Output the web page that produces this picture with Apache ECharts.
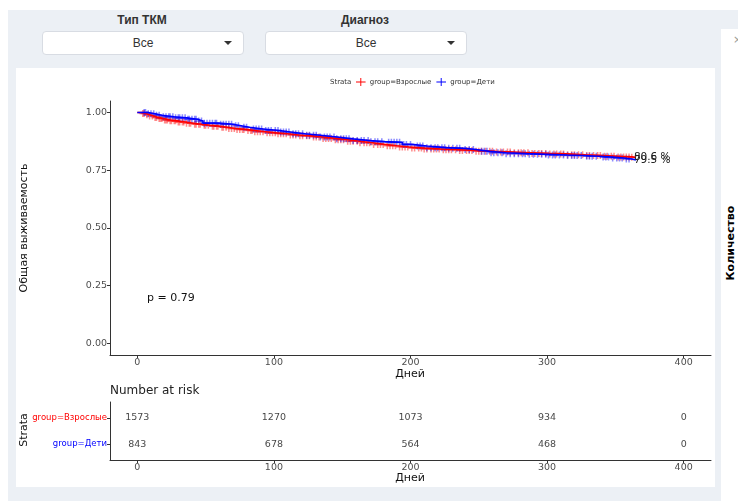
<!DOCTYPE html>
<html>
<head>
<meta charset="utf-8">
<script src="https://cdn.jsdelivr.net/npm/echarts@6/dist/echarts.min.js"></script>
<style>
  html, body { margin: 0; padding: 0; background: #fff; width: 738px; height: 501px; overflow: hidden; }
  #bg { position: absolute; left: 8px; top: 10px; width: 730px; height: 491px; background: #ecf0f5; }
  .sel-label { position: absolute; top: 13px; transform: translateX(-50%); white-space: nowrap;
    font: bold 12px "Liberation Sans Narrow", "Liberation Sans", Arial, sans-serif; color: #333; }
  .sel { position: absolute; top: 31px; width: 202px; height: 24px; background: #fff;
    border: 1px solid #d8dce3; border-radius: 4px; box-sizing: border-box; }
  .sel span { position: absolute; left: 0; right: 0; top: 4px; text-align: center;
    font: 12px "Liberation Sans Narrow", "Liberation Sans", Arial, sans-serif; color: #333; }
  .caret { position: absolute; right: 11px; top: 9px; width: 0; height: 0;
    border-left: 4px solid transparent; border-right: 4px solid transparent; border-top: 4px solid #333; }
  #chart { position: absolute; left: 16px; top: 68px; width: 699px; height: 419px; background: #fff; }
  #side { position: absolute; left: 721px; top: 29px; width: 17px; height: 472px; background: #fff; overflow: hidden; }
  #side .ttl { position: absolute; left: 9px; top: 214px; transform: translate(-50%, -50%) rotate(-90deg);
    white-space: nowrap; font: bold 11px "DejaVu Sans", sans-serif; color: #000; }
  #side .x { position: absolute; left: 12px; top: 4px; font: 11px "DejaVu Sans", sans-serif; color: #999; }
</style>
</head>
<body>
<div id="bg"></div>
<div class="sel-label" style="left:142px">Тип ТКМ</div>
<div class="sel" style="left:42px"><span>Все</span><div class="caret"></div></div>
<div class="sel-label" style="left:365px">Диагноз</div>
<div class="sel" style="left:265px"><span>Все</span><div class="caret"></div></div>
<div id="side"><div class="x">×</div><div class="ttl">Количество</div></div>
<div id="chart"></div>
<script>
// Kaplan–Meier steps (day, survival) for each group
const groupNames = ['group=Взрослые', 'group=Дети'];
const daysAdult = [0,3,6,9,12,15,19,24,29,35,41,47,53,60,66,72,79,86,94,102,110,118,127,136,145,154,163,172,181,190,199,210,222,235,248,262,275,288,301,315,328,341,352,362,365];
const survAdult = [1.0,0.996,0.99,0.985,0.979,0.974,0.968,0.964,0.959,0.954,0.949,0.945,0.941,0.936,0.931,0.927,0.922,0.917,0.912,0.908,0.903,0.899,0.894,0.888,0.882,0.876,0.869,0.862,0.856,0.851,0.846,0.842,0.839,0.836,0.832,0.829,0.826,0.823,0.821,0.817,0.814,0.811,0.808,0.806,0.806];
const daysChild = [0,8,13,18,27,36,44,48,60,70,76,82,92,104,112,123,134,146,158,170,181,194,201,212,226,240,248,258,270,285,300,315,326,338,348,356,362,365];
const survChild = [1.0,0.995,0.988,0.982,0.977,0.971,0.963,0.954,0.949,0.943,0.936,0.929,0.922,0.916,0.908,0.902,0.894,0.886,0.879,0.874,0.871,0.862,0.855,0.848,0.845,0.84,0.832,0.826,0.822,0.819,0.816,0.814,0.811,0.807,0.803,0.799,0.795,0.795];

// Censoring times (days)
const censorAdult = [4,5,7,9,11,13,14,16,17,18,20,21,22,24,25,27,28,30,31,33,34,36,38,39,42,43,45,46,49,50,52,55,56,58,59,62,63,65,67,69,71,73,75,77,78,81,83,84,86,88,90,92,95,97,99,101,103,105,107,109,112,114,116,119,121,124,126,129,131,133,136,138,140,142,145,147,149,151,154,156,158,161,163,166,168,170,173,176,178,180,183,185,187,189,192,194,196,198,201,203,206,208,210,212,215,217,219,221,224,226,228,230,233,236,238,241,243,245,248,250,252,255,258,260,263,266,268,271,273,276,279,281,283,286,289,291,294,296,299,302,305,307,310,312,315,318,320,323,326,329,331,334,337,339,342,344,347,349,352,354,356,358,360,362];
const censorChild = [5,6,8,10,12,14,16,19,21,23,24,26,28,30,31,33,35,37,38,40,42,43,45,47,49,51,53,55,57,58,61,63,65,67,69,72,74,78,80,85,87,89,91,94,96,98,101,103,105,107,109,111,114,116,118,121,124,126,129,131,134,137,139,141,144,146,149,151,153,155,158,161,164,166,169,171,174,176,179,184,186,188,190,192,195,197,200,205,207,209,212,215,218,220,223,225,228,231,234,236,240,243,246,252,254,256,259,261,264,267,270,273,276,279,282,284,287,290,293,296,299,301,304,306,309,312,315,318,320,322,325,329,331,333,336,341,343,345,348,351,353,355,358,360];

// Number at risk table
const riskDays = [0, 100, 200, 300, 400];
const riskAdult = [1573, 1270, 1073, 934, 0];
const riskChild = [843, 678, 564, 468, 0];

const xTicks = [0, 100, 200, 300, 400];
const yTicks = [0, 0.25, 0.5, 0.75, 1];
const pValueText = 'p = 0.79';

const RED = '#ff0000', BLUE = '#0000ff';
const FONT = '"DejaVu Sans", sans-serif';

function zip(a, b) { return a.map((v, i) => [v, b[i]]); }
function survAt(days, surv, t) {
  let s = surv[0];
  for (let i = 0; i < days.length; i++) if (days[i] <= t) s = surv[i];
  return s;
}
const plusPath = 'path://M0,3.9H10V6.1H0Z M3.9,0H6.1V10H3.9Z';
const legendIcon = 'path://M0,4.4H12V5.6H0Z M5.4,0H6.6V10H5.4Z';

const axisBase = {
  axisLine: { show: true, onZero: false, lineStyle: { color: '#333', width: 1 } },
  axisTick: { show: true, length: 3, lineStyle: { color: '#333' } },
  splitLine: { show: false },
  axisLabel: { color: '#4d4d4d', fontSize: 9.5, fontFamily: FONT, margin: 3 }
};

function xAxisFor(gridIndex) {
  return Object.assign({}, axisBase, {
    type: 'value', gridIndex, min: -20, max: 420,
    axisTick: Object.assign({}, axisBase.axisTick, { customValues: xTicks }),
    axisLabel: Object.assign({}, axisBase.axisLabel, { customValues: xTicks })
  });
}

const chart = echarts.init(document.getElementById('chart'), null, { renderer: 'canvas' });

chart.setOption({
  animation: false,
  backgroundColor: '#fff',
  textStyle: { fontFamily: FONT },
  grid: [
    { left: 94, top: 33, width: 601, height: 254 },
    { left: 94, top: 334, width: 601, height: 58 }
  ],
  xAxis: [xAxisFor(0), xAxisFor(1)],
  yAxis: [
    Object.assign({}, axisBase, {
      type: 'value', gridIndex: 0, min: -0.05, max: 1.05,
      axisTick: Object.assign({}, axisBase.axisTick, { customValues: yTicks }),
      axisLabel: Object.assign({}, axisBase.axisLabel, {
        customValues: yTicks, formatter: v => v.toFixed(2)
      })
    }),
    Object.assign({}, axisBase, {
      type: 'value', gridIndex: 1, min: 0.4, max: 2.6,
      axisTick: Object.assign({}, axisBase.axisTick, { customValues: [1, 2] }),
      axisLabel: Object.assign({}, axisBase.axisLabel, {
        customValues: [1, 2],
        formatter: v => (v === 2 ? '{a|' + groupNames[0] + '}' : '{b|' + groupNames[1] + '}'),
        rich: {
          a: { color: RED, fontSize: 8.5, fontFamily: FONT },
          b: { color: BLUE, fontSize: 8.5, fontFamily: FONT }
        }
      })
    })
  ],
  legend: {
    data: [
      { name: groupNames[0], icon: legendIcon },
      { name: groupNames[1], icon: legendIcon }
    ],
    left: 335, top: 5, itemWidth: 10, itemHeight: 8, itemGap: 5,
    textStyle: { fontSize: 7, color: '#333', fontFamily: FONT, padding: [0, 0, 0, -1] }
  },
  series: [
    {
      name: groupNames[0], type: 'line', step: 'end', xAxisIndex: 0, yAxisIndex: 0,
      data: zip(daysAdult, survAdult), showSymbol: false, symbol: 'none',
      lineStyle: { color: RED, width: 1.6 }, itemStyle: { color: RED },
      endLabel: { show: true, distance: -2, fontSize: 10.5, color: '#222', fontFamily: FONT,
        formatter: p => (p.value[1] * 100).toFixed(1) + ' %' }
    },
    {
      name: groupNames[1], type: 'line', step: 'end', xAxisIndex: 0, yAxisIndex: 0,
      data: zip(daysChild, survChild), showSymbol: false, symbol: 'none',
      lineStyle: { color: BLUE, width: 1.6 }, itemStyle: { color: BLUE },
      endLabel: { show: true, distance: -2, fontSize: 10.5, color: '#222', fontFamily: FONT,
        formatter: p => (p.value[1] * 100).toFixed(1) + ' %' }
    },
    {
      name: 'censorAdult', type: 'scatter', xAxisIndex: 0, yAxisIndex: 0,
      data: censorAdult.map(t => [t, survAt(daysAdult, survAdult, t)]),
      symbol: plusPath, symbolSize: 7, itemStyle: { color: RED, opacity: 0.45 }, silent: true
    },
    {
      name: 'censorChild', type: 'scatter', xAxisIndex: 0, yAxisIndex: 0,
      data: censorChild.map(t => [t, survAt(daysChild, survChild, t)]),
      symbol: plusPath, symbolSize: 7, itemStyle: { color: BLUE, opacity: 0.45 }, silent: true
    },
    {
      name: 'riskAdult', type: 'scatter', xAxisIndex: 1, yAxisIndex: 1,
      data: riskDays.map((d, i) => [d, 2, riskAdult[i]]), symbolSize: 0.01,
      label: { show: true, position: 'inside', formatter: p => String(p.value[2]),
        fontSize: 9.5, color: '#111', fontFamily: FONT }, silent: true
    },
    {
      name: 'riskChild', type: 'scatter', xAxisIndex: 1, yAxisIndex: 1,
      data: riskDays.map((d, i) => [d, 1, riskChild[i]]), symbolSize: 0.01,
      label: { show: true, position: 'inside', formatter: p => String(p.value[2]),
        fontSize: 9.5, color: '#111', fontFamily: FONT }, silent: true
    }
  ],
  graphic: [
    { type: 'text', x: 314, y: 14, style: { text: 'Strata', fontSize: 7, fill: '#333', fontFamily: FONT, verticalAlign: 'middle' } },
    { type: 'text', x: 8, y: 160, rotation: Math.PI / 2,
      style: { text: 'Общая выживаемость', fontSize: 11, fill: '#111', fontFamily: FONT, align: 'center', verticalAlign: 'middle' } },
    { type: 'text', x: 394, y: 306, style: { text: 'Дней', fontSize: 11, fill: '#111', fontFamily: FONT, align: 'center', verticalAlign: 'middle' } },
    { type: 'text', x: 131, y: 230, style: { text: pValueText, fontSize: 11, fill: '#111', fontFamily: FONT, verticalAlign: 'middle' } },
    { type: 'text', x: 94, y: 323, style: { text: 'Number at risk', fontSize: 12, fill: '#222', fontFamily: FONT, verticalAlign: 'middle' } },
    { type: 'text', x: 8, y: 362, rotation: Math.PI / 2,
      style: { text: 'Strata', fontSize: 11, fill: '#111', fontFamily: FONT, align: 'center', verticalAlign: 'middle' } },
    { type: 'text', x: 394, y: 410, style: { text: 'Дней', fontSize: 11, fill: '#111', fontFamily: FONT, align: 'center', verticalAlign: 'middle' } }
  ]
});
</script>
</body>
</html>
